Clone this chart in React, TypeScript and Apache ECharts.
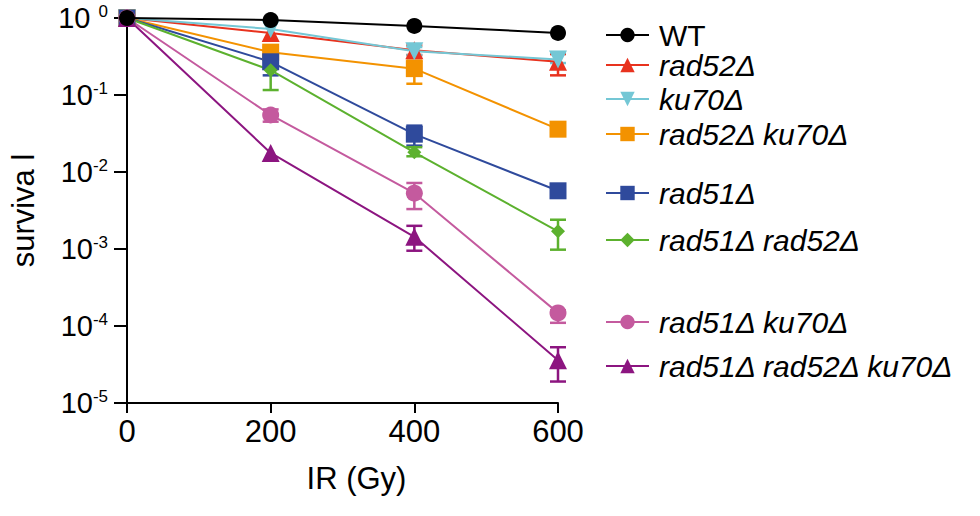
import React, { useEffect, useRef } from 'react';
import * as echarts from 'echarts';

// ---- data ----
const doses = [0, 200, 400, 600];
const seriesNames = ['WT', 'rad52Δ', 'ku70Δ', 'rad52Δ ku70Δ', 'rad51Δ', 'rad51Δ rad52Δ', 'rad51Δ ku70Δ', 'rad51Δ rad52Δ ku70Δ'];
const wt = [1, 0.94, 0.79, 0.64];
const rad52 = [1, 0.64, 0.38, 0.27];
const ku70 = [1, 0.72, 0.37, 0.29];
const rad52ku70 = [1, 0.36, 0.22, 0.036];
const rad51 = [1, 0.27, 0.031, 0.0057];
const rad51rad52 = [1, 0.21, 0.018, 0.0017];
const rad51ku70 = [1, 0.055, 0.0053, 0.000148];
const rad51rad52ku70 = [1, 0.0177, 0.00144, 0.000036];

// error bars: [dose, low, high]
const wtErr: number[][] = [];
const rad52Err = [[400, 0.33, 0.44], [600, 0.18, 0.34]];
const ku70Err = [[400, 0.33, 0.42], [600, 0.26, 0.36]];
const rad52ku70Err = [[200, 0.32, 0.42], [400, 0.14, 0.28]];
const rad51Err = [[200, 0.18, 0.38], [400, 0.022, 0.04]];
const rad51rad52Err = [[200, 0.116, 0.3], [400, 0.016, 0.021], [600, 0.00098, 0.0024]];
const rad51ku70Err = [[200, 0.045, 0.065], [400, 0.0033, 0.0072], [600, 0.00011, 0.00016]];
const rad51rad52ku70Err = [[400, 0.00095, 0.002], [600, 0.000019, 0.000053]];

const xTicks = [0, 200, 400, 600];

const allValues = [wt, rad52, ku70, rad52ku70, rad51, rad51rad52, rad51ku70, rad51rad52ku70];
const allErrors = [wtErr, rad52Err, ku70Err, rad52ku70Err, rad51Err, rad51rad52Err, rad51ku70Err, rad51rad52ku70Err];

// ---- styles ----
const colors = ['#000000', '#e8321e', '#74c7d5', '#f39200', '#2f4a9c', '#5cb12e', '#c45a9e', '#8c1580'];
const symbols = ['circle', 'triangle', 'triangle', 'rect', 'rect', 'diamond', 'circle', 'triangle'];
const symbolRotates = [0, 0, 180, 0, 0, 0, 0, 0];
const symbolSizes = [16, 18, 18, 17, 17, 14, 17, 18];
const legendYs = [35, 65, 99, 134, 193, 240, 322, 366];

const FONT = '"Liberation Sans", Arial, Helvetica, sans-serif';

export default function App() {
  const ref = useRef<HTMLDivElement>(null);
  useEffect(() => {
    if (!ref.current) return;
    const chart = echarts.init(ref.current, undefined, { renderer: 'svg' });

    const lineSeries = seriesNames.map((name, i) => ({
      name,
      type: 'line',
      data: doses.map((d, j) => [d, allValues[i][j]]),
      symbol: symbols[i],
      symbolSize: symbolSizes[i],
      symbolRotate: symbolRotates[i],
      showSymbol: true,
      lineStyle: { color: colors[i], width: 2 },
      itemStyle: { color: colors[i] },
      z: i === 0 ? 10 : 3,
    }));

    const errSeries = seriesNames.map((name, i) => ({
      name: 'err-' + name,
      type: 'custom',
      data: allErrors[i],
      encode: { x: 0, y: [1, 2] },
      z: 2,
      renderItem: (params: any, api: any) => {
        const x = api.value(0);
        const lo = api.coord([x, api.value(1)]);
        const hi = api.coord([x, api.value(2)]);
        const w = 8;
        const st = { stroke: colors[i], lineWidth: 2.5 };
        return {
          type: 'group',
          children: [
            { type: 'line', shape: { x1: lo[0], y1: lo[1], x2: hi[0], y2: hi[1] }, style: st },
            { type: 'line', shape: { x1: lo[0] - w, y1: lo[1], x2: lo[0] + w, y2: lo[1] }, style: st },
            { type: 'line', shape: { x1: hi[0] - w, y1: hi[1], x2: hi[0] + w, y2: hi[1] }, style: st },
          ],
        };
      },
    }));

    const legends = seriesNames.map((name, i) => ({
      data: [name],
      left: 605,
      top: legendYs[i] - 15,
      padding: 0,
      itemWidth: 43,
      itemHeight: 18,
      selectedMode: false,
      textStyle: {
        fontFamily: FONT,
        fontSize: 30,
        lineHeight: 24,
        fontStyle: i === 0 ? 'normal' : 'italic',
        color: '#000',
        padding: [0, 0, 0, 5],
      },
    }));

    chart.setOption({
      animation: false,
      backgroundColor: '#ffffff',
      grid: { left: 127, right: 422, top: 18, bottom: 113, containLabel: false },
      legend: legends,
      xAxis: {
        type: 'value',
        min: 0,
        max: 600,
        interval: 200,
        name: 'IR (Gy)',
        nameLocation: 'middle',
        nameGap: 60,
        nameTextStyle: { fontFamily: FONT, fontSize: 31, color: '#000', padding: [0, 0, 0, 28] },
        axisLine: { lineStyle: { color: '#000', width: 2 } },
        axisTick: { show: true, length: 10, lineStyle: { color: '#000', width: 2 } },
        axisLabel: {
          fontFamily: FONT, fontSize: 31, color: '#000', margin: 13,
          formatter: (v: number) => (xTicks.includes(v) ? String(v) : ''),
        },
        splitLine: { show: false },
      },
      yAxis: {
        type: 'log',
        logBase: 10,
        min: 0.00001,
        max: 1,
        name: 'surviva l',
        nameLocation: 'middle',
        nameGap: 88,
        nameRotate: 90,
        nameTextStyle: { fontFamily: FONT, fontSize: 31, color: '#000' },
        axisLine: { lineStyle: { color: '#000', width: 2 } },
        axisTick: { show: true, length: 13, lineStyle: { color: '#000', width: 2 } },
        axisLabel: {
          fontFamily: FONT, color: '#000', margin: 19,
          formatter: (v: number) => {
            const e = Math.round(Math.log10(v));
            return e === 0 ? '{b|10 }{s|0}' : '{b|10}{s|' + e + '}';
          },
          rich: {
            b: { fontFamily: FONT, fontSize: 29, color: '#000' },
            s: { fontFamily: FONT, fontSize: 17, color: '#000', padding: [0, 0, 14, 0] },
          },
        },
        splitLine: { show: false },
      },
      series: [...errSeries, ...lineSeries],
    });
    return () => chart.dispose();
  }, []);
  return <div ref={ref} style={{ position: 'fixed', left: 0, top: 0, width: 980, height: 516, background: '#fff' }} />;
}
